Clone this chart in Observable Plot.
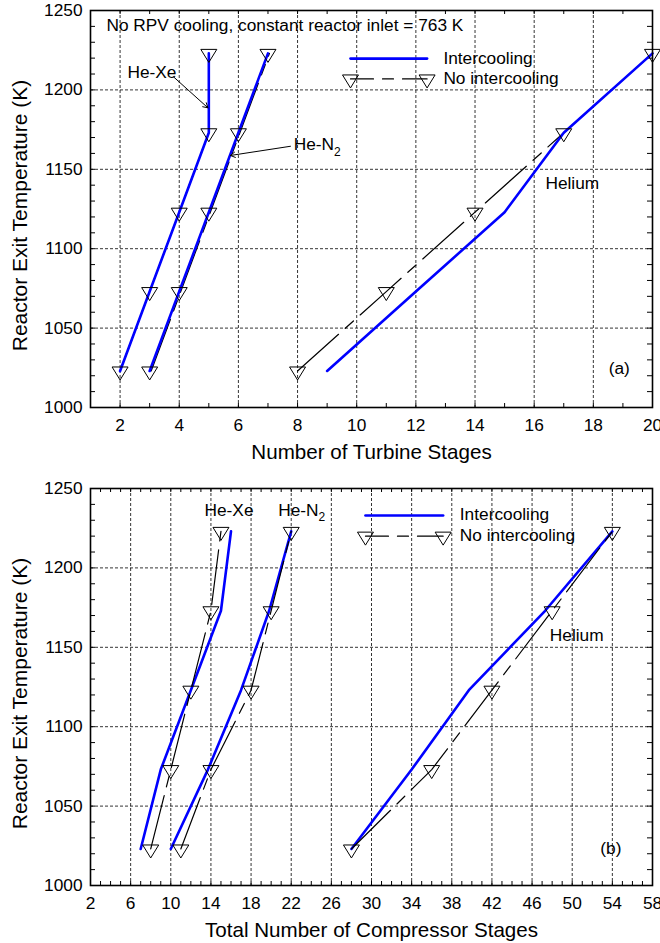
<!DOCTYPE html>
<html>
<head>
<meta charset="utf-8">
<script src="https://cdn.jsdelivr.net/npm/d3@7"></script>
<script src="https://cdn.jsdelivr.net/npm/@observablehq/plot@0.6"></script>
<style>
  html, body { margin: 0; padding: 0; background: #fff; }
  #chart { width: 660px; }
  #chart svg { display: block; }
</style>
</head>
<body>
<div id="chart"></div>
<script>
// ---------------- data ----------------
const temps = [1023, 1073, 1123, 1173, 1223];

// (a) Number of turbine stages
const turbHeXeIC   = [2, 3, 4, 5, 5];
const turbHeXeNoIC = [2, 3, 4, 5, 5];
const turbHeN2IC   = [3, 4, 5, 6, 7];
const turbHeN2NoIC = [3, 4, 5, 6, 7];
const turbHeIC     = [9, 12, 15, 17, 20];
const turbHeNoIC   = [8, 11, 14, 17, 20];

// (b) Total number of compressor stages
const compHeXeIC   = [7, 9, 12, 15, 16];
const compHeXeNoIC = [8, 10, 12, 14, 15];
const compHeN2IC   = [10, 13.7, 17, 19.8, 22];
const compHeN2NoIC = [11, 14, 18, 20, 22];
const compHeIC     = [28, 34, 39.7, 47.3, 54];
const compHeNoIC   = [28, 36, 42, 48, 54];

// ticks
const yTicks  = [1000, 1050, 1100, 1150, 1200, 1250];
const yGrid   = [1050, 1100, 1150, 1200];
const xTicksA = [2, 4, 6, 8, 10, 12, 14, 16, 18, 20];
const xGridA  = [2, 4, 6, 8, 10, 12, 14, 16, 18];
const xTicksB = [2, 6, 10, 14, 18, 22, 26, 30, 34, 38, 42, 46, 50, 54, 58];
const xGridB  = [6, 10, 14, 18, 22, 26, 30, 34, 38, 42, 46, 50, 54];

// texts
const titleA = "No RPV cooling, constant reactor inlet = 763 K";
const xLabelA = "Number of Turbine Stages";
const xLabelB = "Total Number of Compressor Stages";
const yLabel = "Reactor Exit Temperature (K)";
const legendLabels = ["Intercooling", "No intercooling"];

// ---------------- helpers ----------------
const FONT = "'Liberation Sans', Arial, Helvetica, sans-serif";
const BLUE = "#0000ff";
const FS = 17.3;
const rows = (xs, gas) => xs.map((x, i) => ({x, y: temps[i], gas}));
const range = (a, b, s) => d3.range(a, b + 1e-9, s);

// inverted hollow triangle symbol
const invTri = {
  draw(ctx) {
    ctx.moveTo(-8, -4);
    ctx.lineTo(8, -4);
    ctx.lineTo(0, 9);
    ctx.closePath();
  }
};

function makeChart(cfg) {
  const W = 660, ml = 90, mr = 8;
  const fh = cfg.height - cfg.marginTop - cfg.marginBottom;
  const fw = W - ml - mr;
  const [x0, x1] = cfg.xDomain;
  const kPerPx = 250 / fh;
  const uPerPx = (x1 - x0) / fw;
  const xMinor = range(Math.ceil(x0), x1, 1);
  const yMinor = range(1000, 1250, 10);
  const tickStyle = {stroke: "black", strokeWidth: 1};
  const gridStyle = {stroke: "black", strokeWidth: 0.8, strokeDasharray: "3,2"};
  const dashStyle = {stroke: "black", strokeWidth: 1.2, strokeDasharray: "55,9,11,9"};
  const blueStyle = {stroke: BLUE, strokeWidth: 2.6};

  const noicMarks = cfg.noic.map(s =>
    Plot.line(s.data, {x: "x", y: "y", ...dashStyle, dx: s.dx || 0}));
  const icMarks = cfg.ic.map(s =>
    Plot.line(s.data, {x: "x", y: "y", ...blueStyle}));
  const lineMarks = cfg.blueOnTop ? [...noicMarks, ...icMarks] : [...icMarks, ...noicMarks];

  const L = cfg.legend;
  const txt = (d, extra = {}) => Plot.text(d, {x: "x", y: "y", text: "t", textAnchor: "start",
    fontSize: FS, fill: "black", ...extra});

  return Plot.plot({
    width: W, height: cfg.height,
    marginLeft: ml, marginRight: mr, marginTop: cfg.marginTop, marginBottom: cfg.marginBottom,
    style: {fontFamily: FONT, fontSize: FS + "px", color: "black", background: "white"},
    x: {domain: cfg.xDomain},
    y: {domain: [1000, 1250]},
    marks: [
      // grid
      Plot.ruleX(cfg.xGrid, gridStyle),
      Plot.ruleY(yGrid, gridStyle),
      // inward ticks
      Plot.ruleX(xMinor, {y1: 1000, y2: 1000 + 4 * kPerPx, ...tickStyle}),
      Plot.ruleX(xMinor, {y1: 1250, y2: 1250 - 4 * kPerPx, ...tickStyle}),
      Plot.ruleY(yMinor, {x1: x0, x2: x0 + 5 * uPerPx, ...tickStyle}),
      Plot.ruleY(yMinor, {x1: x1, x2: x1 - 5 * uPerPx, ...tickStyle}),
      // series
      ...lineMarks,
      Plot.dot(cfg.noic.flatMap(s => s.data), {x: "x", y: "y", symbol: invTri,
        stroke: "black", fill: "none", strokeWidth: 1}),
      // legend
      Plot.line([{x: L.x1, y: L.yIC}, {x: L.x2, y: L.yIC}], {x: "x", y: "y", ...blueStyle}),
      Plot.line([{x: L.x1, y: L.yNo}, {x: L.x2, y: L.yNo}], {x: "x", y: "y", ...dashStyle,
        strokeDashoffset: 32}),
      Plot.dot([{x: L.x1, y: L.yNo}, {x: L.x2, y: L.yNo}], {x: "x", y: "y", symbol: invTri,
        stroke: "black", fill: "none", strokeWidth: 1}),
      txt([{x: L.tx, y: L.yIC + 0.4, t: legendLabels[0]}, {x: L.tx, y: L.yNo + 0.4, t: legendLabels[1]}]),
      // annotations
      txt(cfg.labels),
      txt(cfg.subs, {fontSize: 12, dx: 40.4, dy: cfg.subDy}),
      Plot.arrow(cfg.arrows, {x1: "x1", y1: "y1", x2: "x2", y2: "y2", stroke: "black",
        strokeWidth: 1, headLength: 8}),
      // frame
      Plot.frame({stroke: "black", strokeWidth: 1.6}),
      // axes
      Plot.axisX(cfg.xTicks, {anchor: "bottom", tickSize: 0, tickPadding: 11, label: null,
        fontSize: FS, tickFormat: d => String(d)}),
      Plot.axisY(yTicks, {anchor: "left", tickSize: 0, tickPadding: 8, label: null,
        fontSize: FS, tickFormat: d => String(d)}),
      Plot.text([cfg.xLabel], {text: d => d, frameAnchor: "bottom", lineAnchor: "middle",
        textAnchor: "middle", dy: 45, fontSize: 20.6, fill: "black"}),
      Plot.text([yLabel], {text: d => d, frameAnchor: "left", textAnchor: "middle",
        lineAnchor: "middle", rotate: -90, dx: -70, dy: 6.5, fontSize: 21, fill: "black"})
    ]
  });
}

// ---------------- chart (a) ----------------
const chartA = makeChart({
  height: 470, marginTop: 10, marginBottom: 63,
  xDomain: [1, 20], xTicks: xTicksA, xGrid: xGridA,
  blueOnTop: true,
  ic: [{data: rows(turbHeXeIC, "He-Xe")}, {data: rows(turbHeN2IC, "He-N2")}, {data: rows(turbHeIC, "He")}],
  noic: [{data: rows(turbHeXeNoIC, "He-Xe")}, {data: rows(turbHeN2NoIC, "He-N2"), dx: 1.5},
         {data: rows(turbHeNoIC, "He")}],
  legend: {x1: 9.79, x2: 12.38, tx: 12.93, yIC: 1219.7, yNo: 1206.9},
  labels: [
    {x: 1.54, y: 1240.6, t: titleA},
    {x: 2.25, y: 1211, t: "He-Xe"},
    {x: 7.87, y: 1165.9, t: "He-N"},
    {x: 16.38, y: 1141, t: "Helium"},
    {x: 18.52, y: 1024.4, t: "(a)"}
  ],
  subs: [{x: 7.87, y: 1165.9, t: "2"}],
  subDy: 8,
  arrows: [
    {x1: 3.82, y1: 1208, x2: 4.97, y2: 1188.7},
    {x1: 7.76, y1: 1164.5, x2: 5.73, y2: 1158.7}
  ],
  xLabel: xLabelA
});

// ---------------- chart (b) ----------------
const chartB = makeChart({
  height: 473, marginTop: 18, marginBottom: 58,
  xDomain: [2, 58], xTicks: xTicksB, xGrid: xGridB,
  blueOnTop: false,
  ic: [{data: rows(compHeXeIC, "He-Xe")}, {data: rows(compHeN2IC, "He-N2")}, {data: rows(compHeIC, "He")}],
  noic: [{data: rows(compHeXeNoIC, "He-Xe")}, {data: rows(compHeN2NoIC, "He-N2")},
         {data: rows(compHeNoIC, "He")}],
  legend: {x1: 29.4, x2: 37.14, tx: 38.8, yIC: 1233, yNo: 1220},
  labels: [
    {x: 13.36, y: 1236.1, t: "He-Xe"},
    {x: 20.7, y: 1236.1, t: "He-N"},
    {x: 47.77, y: 1157.4, t: "Helium"},
    {x: 52.8, y: 1023.3, t: "(b)"}
  ],
  subs: [{x: 20.7, y: 1236.1, t: "2"}],
  subDy: 7,
  arrows: [],
  xLabel: xLabelB
});

document.getElementById("chart").append(chartA, chartB);
</script>
</body>
</html>
